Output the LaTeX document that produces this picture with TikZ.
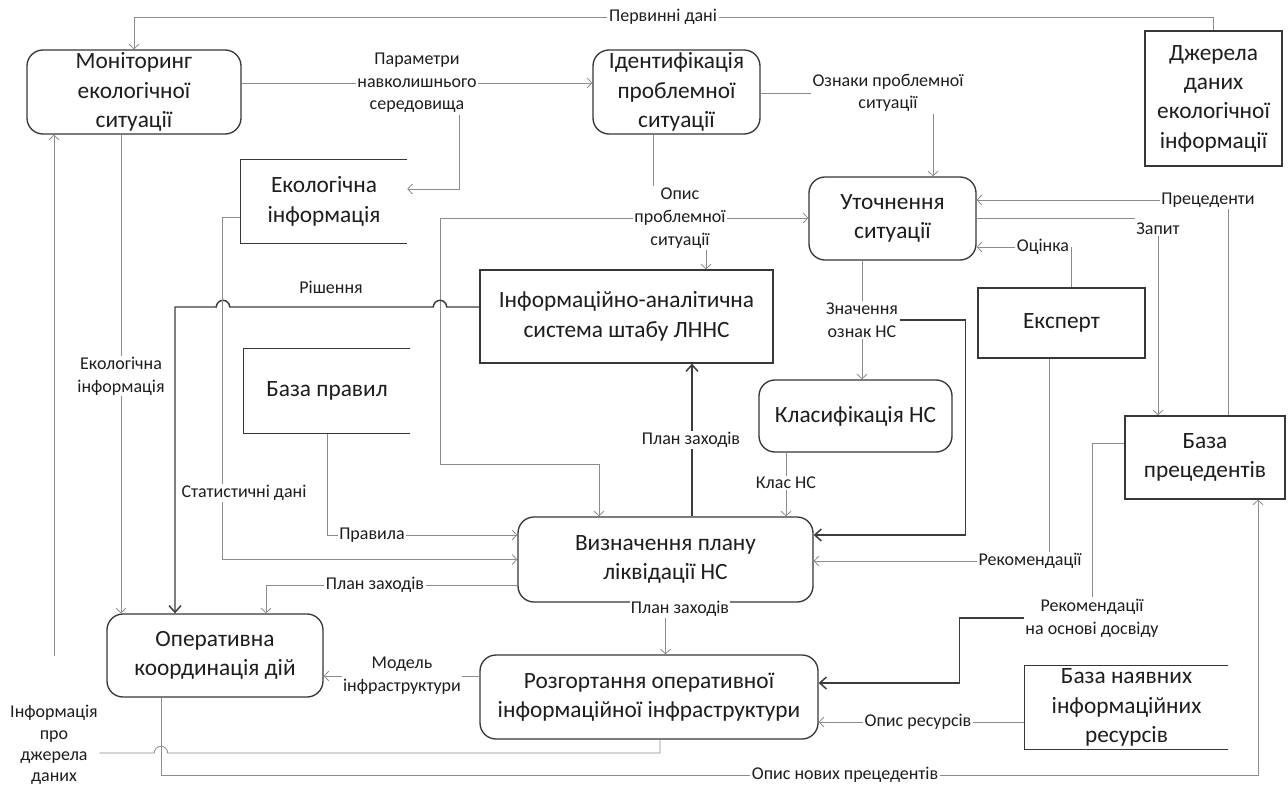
\documentclass[tikz,border=0pt]{standalone}
\usepackage{fontspec}
\setmainfont{Carlito}
\usepackage{tikz}
\usetikzlibrary{arrows.meta,positioning,calc,backgrounds}
\usepackage{xcolor}
\definecolor{boxcol}{RGB}{55,55,55}
\definecolor{linecol}{RGB}{140,140,140}
\definecolor{darkcol}{RGB}{60,60,60}
\definecolor{txtcol}{RGB}{30,30,30}
\tikzset{
  % process (rounded box)
  proc/.style={rectangle, rounded corners=12pt, draw=boxcol, line width=1pt, fill=white,
               align=center, inner sep=0pt, font=\fontsize{17.5}{22}\selectfont, text=txtcol},
  % external entity
  extent/.style={rectangle, draw=boxcol, line width=1pt, fill=white,
               align=center, inner sep=0pt, font=\fontsize{17.5}{22}\selectfont, text=txtcol},
  % data store, open on the right (sides drawn by \drawstore)
  store/.style={rectangle, align=center, inner sep=0pt, font=\fontsize{17.5}{22}\selectfont, text=txtcol},
  % flow label
  flowlbl/.style={fill=white, inner sep=1pt, align=center, font=\fontsize{13.5}{17}\selectfont, text=txtcol},
  % thin flow
  flow/.style={draw=linecol, line width=0.6pt},
  flowarr/.style={flow, -{Straight Barb[length=3.5pt,width=7.5pt]}},
  % main flow
  mainflow/.style={draw=darkcol, line width=1.1pt},
  mainarr/.style={mainflow, -{Straight Barb[length=5pt,width=9pt]}},
}
\newcommand{\drawstore}[1]{\draw[boxcol, line width=1pt] (#1.north east) -- (#1.north west) -- (#1.south west) -- (#1.south east);}

\begin{document}
\begin{tikzpicture}[x=0.75pt, y=-0.75pt]
  \useasboundingbox (0,0) rectangle (1288,791);

  % ── boxes ──
  \node[proc, minimum width=160.5pt, minimum height=63pt] (mon) at (134,92) {Моніторинг\\екологічної\\ситуації};
  \node[proc, minimum width=125.25pt, minimum height=63pt] (ident) at (676.5,92) {Ідентифікація\\проблемної\\ситуації};
  \node[extent, minimum width=102.75pt, minimum height=101.25pt] (dzh) at (1213.5,98.5) {Джерела\\даних\\екологічної\\інформації};
  \node[store, minimum width=124.5pt, minimum height=62.25pt] (ekinfo) at (324,201.5) {Екологічна\\інформація};
  \drawstore{ekinfo}
  \node[proc, minimum width=125.25pt, minimum height=62.25pt] (utoch) at (892.5,218.5) {Уточнення\\ситуації};
  \node[extent, minimum width=219.75pt, minimum height=69.75pt] (ias) at (626.5,316.5) {Інформаційно-аналітична\\система штабу ЛННС};
  \node[extent, minimum width=125.25pt, minimum height=52.5pt] (ekspert) at (1061.5,323) {Експерт};
  \node[store, minimum width=124.5pt, minimum height=63pt] (bazapr) at (327,391) {База правил};
  \drawstore{bazapr}
  \node[proc, minimum width=144.75pt, minimum height=54pt] (klas) at (855.5,416) {Класифікація НС};
  \node[extent, minimum width=120pt, minimum height=62.25pt] (bazaprec) at (1205,457.5) {База\\прецедентів};
  \node[proc, minimum width=221.25pt, minimum height=63.75pt] (vyzn) at (665.5,559.5) {Визначення плану\\ліквідації НС};
  \node[proc, minimum width=162pt, minimum height=62.25pt] (oper) at (215,655.5) {Оперативна\\координація дій};
  \node[proc, minimum width=253.5pt, minimum height=63pt] (rozg) at (649,697) {Розгортання оперативної\\інформаційної інфраструктури};
  \node[store, minimum width=152.25pt, minimum height=62.25pt] (bazanayav) at (1126.5,707.5) {База наявних\\інформаційних\\ресурсів};
  \drawstore{bazanayav}

  % ── flow labels ──
  \node[flowlbl] (lPerv) at (663,17) {Первинні дані};
  \node[flowlbl] (lParam) at (417,83) {Параметри\\навколишнього\\середовища};
  \node[flowlbl] (lOznaky) at (888,93) {Ознаки проблемної\\ситуації};
  \node[flowlbl] (lOpys) at (680,218) {Опис\\проблемної\\ситуації};
  \node[flowlbl] (lPrec) at (1208,200) {Прецеденти};
  \node[flowlbl] (lZapyt) at (1158,229) {Запит};
  \node[flowlbl] (lOcinka) at (1043,247) {Оцінка};
  \node[flowlbl, fill=none] (lRish) at (331,287) {Рішення};
  \node[flowlbl] (lZnach) at (862,320) {Значення\\ознак НС};
  \node[flowlbl] (lEkol) at (121,376) {Екологічна\\інформація};
  \node[flowlbl] (lPlanUp) at (691,440) {План заходів};
  \node[flowlbl] (lKlas) at (786,483) {Клас НС};
  \node[flowlbl] (lStat) at (244,493) {Статистичні дані};
  \node[flowlbl] (lPrav) at (372,535) {Правила};
  \node[flowlbl] (lRekom) at (1030,561) {Рекомендації};
  \node[flowlbl] (lPlanOp) at (375,585) {План заходів};
  \node[flowlbl] (lPlanDown) at (680,609) {План заходів};
  \node[flowlbl] (lRekDos) at (1092,618) {Рекомендації\\на основі досвіду};
  \node[flowlbl] (lModel) at (402,676) {Модель\\інфраструктури};
  \node[flowlbl] (lResurs) at (918,722) {Опис ресурсів};
  \node[flowlbl, font=\fontsize{13.5}{16}\selectfont] (lDzhInfo) at (54,745) {Інформація\\про\\джерела\\даних};
  \node[flowlbl] (lNovi) at (845,775) {Опис нових прецедентів};

  % line crossings
  \coordinate (xOpys) at (440,307);
  \coordinate (xStat) at (223,307);
  \coordinate (xNovi) at (161,753);

  \begin{scope}[on background layer]
    \fill[white] (0,0) rectangle (1288,791);

    % ── top part ──
    \draw[flowarr] (dzh.north) |- (lPerv) -| (mon.north);
    \draw[flowarr] (mon.east |- lParam) -- (lParam) -- (ident.west |- lParam);
    \draw[flowarr] ($(lParam.south east)+(-19,0)$) |- ($(ekinfo.east)+(0,-12.5)$);
    \draw[flow] (ident.east |- lOznaky) -- (lOznaky);
    \draw[flowarr] ($(lOznaky.south)+(45,0)$) coordinate (t) -- (t |- utoch.north);
    \draw[flow] ($(ident.south)+(-23.5,0)$) coordinate (t) -- (t |- lOpys.north);
    \draw[flowarr] (lOpys) -- (utoch.west |- lOpys);
    \draw[flowarr] (lOpys) -| (440,464) -| ($(vyzn.north)+(-66.5,0)$);
    \draw[flowarr] ($(lOpys.south)+(26,0)$) coordinate (t) -- (t |- ias.north);

    % ── right part ──
    \draw[flow] ($(bazaprec.north)+(23,0)$) coordinate (t) -- (t |- lPrec.south);
    \draw[flowarr] (lPrec) -- (utoch.east |- lPrec);
    \draw[flow] (utoch.east) -- (utoch.east -| lZapyt.west);
    \draw[flowarr] (lZapyt.south) -- (lZapyt.south |- bazaprec.north);
    \draw[flowarr] ($(ekspert.north)+(9.5,0)$) |- (lOcinka) -- (utoch.east |- lOcinka);
    \draw[flow] ($(ekspert.south)+(-12.5,0)$) coordinate (t) -- (t |- lRekom.north);
    \draw[flowarr] (lRekom) -- (vyzn.east |- lRekom);
    \draw[flow] ($(bazaprec.west)+(0,-14.5)$) -| (lRekDos.north);
    \draw[mainarr] (lRekDos.west) -| ($(rozg.east)+(141,-14)$) -- ($(rozg.east)+(0,-14)$);
    \draw[flowarr] (bazanayav.west |- lResurs) -- (lResurs) -- (rozg.east |- lResurs);

    % ── middle part ──
    \draw[flow] ($(utoch.south)+(-30.5,0)$) coordinate (t) -- (t |- lZnach.north);
    \draw[flowarr] (lZnach) -- (lZnach |- klas.north);
    \draw[mainarr] (lZnach.east) -| ($(vyzn.east)+(152,-24.5)$) -- ($(vyzn.east)+(0,-24.5)$);
    \draw[flowarr] ($(klas.south)+(-69.5,0)$) coordinate (t) -- (t |- vyzn.north);
    \draw[mainarr] ($(vyzn.north)+(26.5,0)$) coordinate (t) -- (t |- ias.south);
    \draw[mainarr] ($(ias.west)+(0,-9.5)$) -- ([xshift=5pt]xOpys) arc[start angle=0, end angle=180, radius=5pt]
      -- ([xshift=5pt]xStat) arc[start angle=0, end angle=180, radius=5pt] -| ($(oper.north)+(-40,0)$);
    \draw[flowarr] ($(ekinfo.west)+(0,15.5)$) -| ($(vyzn.west)+(-295,0)$) -- (vyzn.west);
    \draw[flowarr] (bazapr.south) |- (lPrav) -- (vyzn.west |- lPrav);
    \draw[flowarr] (vyzn.west |- lPlanOp) -- (lPlanOp) -| ($(oper.north)+(51,0)$);
    \draw[flowarr] ($(mon.south)+(-13,0)$) coordinate (t) -- (t |- oper.north);

    % ── bottom part ──
    \draw[flowarr] (lPlanDown.south -| vyzn.south) -- (vyzn.south |- rozg.north);
    \draw[flowarr] (rozg.west |- lModel) -- (lModel) -- (oper.east |- lModel);
    \draw[flow] ($(rozg.south)+(11,0)$) |- ([xshift=5pt]xNovi) arc[start angle=0, end angle=180, radius=5pt]
      -- (lDzhInfo.east |- xNovi);
    \draw[flowarr] ($(lDzhInfo.north)+(0,-48)$) -- (lDzhInfo.north |- mon.south);
    \draw[flowarr] ($(oper.south)+(-54,0)$) |- (lNovi) -| ($(bazaprec.south)+(53,0)$);
  \end{scope}

\end{tikzpicture}
\end{document}
